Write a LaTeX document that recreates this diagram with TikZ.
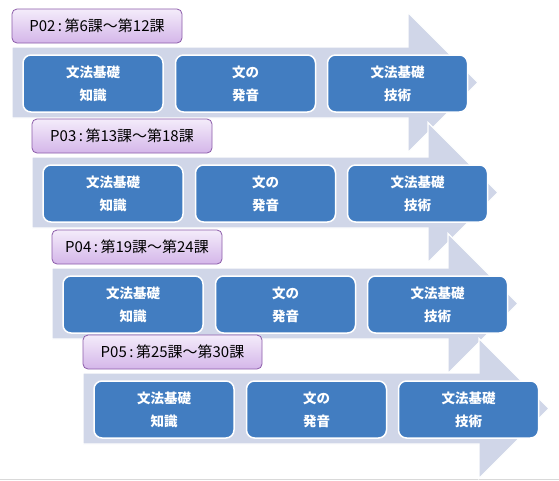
\documentclass[tikz,border=0pt]{standalone}
\usepackage{fontspec}
\newfontfamily\cjk{Noto Sans CJK JP}
\usetikzlibrary{shadings}
\definecolor{BandClr}{RGB}{208,214,232}
\definecolor{BoxClr}{RGB}{66,125,193}
\definecolor{TagTop}{RGB}{244,236,250}
\definecolor{TagBot}{RGB}{212,182,233}
\definecolor{TagLine}{RGB}{140,92,170}

\begin{document}
\begin{tikzpicture}[x=1pt,y=-1pt,
  band/.style={fill=BandClr,draw=white,line width=1.2pt},
  tag/.style={draw=TagLine,line width=.8pt,rounded corners=5pt,top color=TagTop,bottom color=TagBot,
    minimum height=34pt,inner sep=0pt,font=\cjk\fontsize{15}{18}\selectfont},
  topic/.style={fill=BoxClr,draw=white,line width=1.5pt,rounded corners=8pt,
    minimum width=140pt,minimum height=57pt,inner sep=0pt,align=center,text=white,
    font=\cjk\bfseries\fontsize{13.5}{23}\selectfont}]
\useasboundingbox (0,0) rectangle (559,480);
\fill[white] (0,0) rectangle (559,480);
\draw[black!15,line width=1pt] (0,479) -- (559,479);

\foreach \x/\y/\w/\n/\p/\q in {12/9/170/02/6/12, 32/119/180/03/13/18, 52/230/170/04/19/24, 83/335/179/05/25/30}{
  \draw[band] (\x,\y+38) -- (\x+396,\y+38) -- (\x+396,\y+3.5) -- (\x+466,\y+73.5)
     -- (\x+396,\y+143.5) -- (\x+396,\y+109) -- (\x,\y+109) -- cycle;
  \node[tag,minimum width=\w] (tag\n) at (\x+\w/2,\y+17) {P\n\,:\,第\p 課～第\q 課};
  \node[topic] (know\n) at (\x+81,\y+74.5) {文法基礎\\知識};
  \node[topic] (sound\n) at (\x+233.5,\y+74.5) {文の\\発音};
  \node[topic] (skill\n) at (\x+385.5,\y+74.5) {文法基礎\\技術};
}
\end{tikzpicture}
\end{document}
